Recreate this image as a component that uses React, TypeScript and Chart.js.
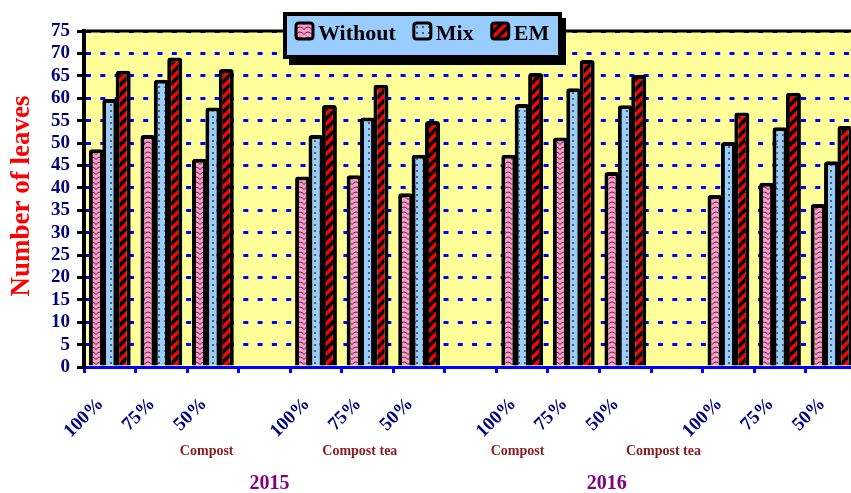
import React, { useEffect, useRef } from "react";
import { Chart, registerables } from "chart.js";

Chart.register(...registerables);

// Doses per treatment; blank slots separate the four treatment groups
const categories = ["100%", "75%", "50%", "", "100%", "75%", "50%", "", "100%", "75%", "50%", "", "100%", "75%", "50%"];

const seriesNames = ["Without", "Mix", "EM"];
const withoutValues = [48.6, 51.8, 46.5, null, 42.5, 42.8, 38.8, null, 47.4, 51.2, 43.5, null, 38.4, 41.1, 36.4];
const mixValues = [59.8, 64.1, 57.9, null, 51.8, 55.7, 47.4, null, 58.7, 62.2, 58.4, null, 50.2, 53.5, 45.9];
const emValues = [66.1, 69.1, 66.5, null, 58.5, 63.0, 54.9, null, 65.6, 68.5, 65.2, null, 56.8, 61.2, 53.8];

const yMin = 0;
const yMax = 75;
const yStep = 5;

const yTitle = "Number of leaves";
const groupLabels = ["Compost", "Compost tea", "Compost", "Compost tea"];
const groupLabelAt = [1.88, 4.85, 7.91, 10.74];
const yearLabels = ["2015", "2016"];
const yearLabelAt = [3.1, 9.64];

const SERIF = "'Liberation Serif', 'Times New Roman', serif";

function makePattern(ctx: CanvasRenderingContext2D, kind: string): CanvasPattern {
  const c = document.createElement("canvas");
  const g = c.getContext("2d")!;
  if (kind === "without") {
    c.width = 8;
    c.height = 5;
    g.fillStyle = "#ff99cc";
    g.fillRect(0, 0, 8, 5);
    g.strokeStyle = "#4a3040";
    g.lineWidth = 1;
    g.beginPath();
    g.moveTo(0, 4.5);
    g.quadraticCurveTo(4, -0.5, 8, 4.5);
    g.stroke();
  } else if (kind === "mix") {
    c.width = 6;
    c.height = 6;
    g.fillStyle = "#99ccff";
    g.fillRect(0, 0, 6, 6);
    g.fillStyle = "#3a3a3a";
    g.beginPath();
    g.arc(3, 3, 1, 0, Math.PI * 2);
    g.fill();
  } else {
    c.width = 10;
    c.height = 10;
    g.fillStyle = "#000000";
    g.fillRect(0, 0, 10, 10);
    g.strokeStyle = "#ff0000";
    g.lineWidth = 3.5;
    g.beginPath();
    g.moveTo(-1, 11);
    g.lineTo(11, -1);
    g.moveTo(-6, 6);
    g.lineTo(6, -6);
    g.moveTo(4, 16);
    g.lineTo(16, 4);
    g.stroke();
  }
  return ctx.createPattern(c, "repeat")!;
}

function roundRect(ctx: CanvasRenderingContext2D, x: number, y: number, w: number, h: number, r: number) {
  ctx.beginPath();
  ctx.moveTo(x + r, y);
  ctx.lineTo(x + w - r, y);
  ctx.quadraticCurveTo(x + w, y, x + w, y + r);
  ctx.lineTo(x + w, y + h - r);
  ctx.quadraticCurveTo(x + w, y + h, x + w - r, y + h);
  ctx.lineTo(x + r, y + h);
  ctx.quadraticCurveTo(x, y + h, x, y + h - r);
  ctx.lineTo(x, y + r);
  ctx.quadraticCurveTo(x, y, x + r, y);
  ctx.closePath();
}

// Yellow plot background, frame line, axis title, group captions and the boxed legend
const decorations = {
  id: "decorations",
  beforeDraw(chart: any) {
    const { ctx, chartArea } = chart;
    ctx.save();
    ctx.fillStyle = "#ffff99";
    ctx.fillRect(chartArea.left, chartArea.top, chartArea.right - chartArea.left, chartArea.bottom - chartArea.top);
    ctx.restore();
  },
  afterDraw(chart: any) {
    const { ctx, chartArea } = chart;
    const xs = chart.scales.x;
    ctx.save();

    // top frame line
    ctx.strokeStyle = "#000";
    ctx.lineWidth = 3;
    ctx.beginPath();
    ctx.moveTo(chartArea.left - 2, chartArea.top);
    ctx.lineTo(chartArea.right, chartArea.top);
    ctx.stroke();

    // y axis title
    ctx.save();
    ctx.translate(22, 196);
    ctx.rotate(-Math.PI / 2);
    ctx.fillStyle = "#ff0000";
    ctx.font = `bold 27px ${SERIF}`;
    ctx.textAlign = "center";
    ctx.textBaseline = "middle";
    ctx.fillText(yTitle, 0, 0);
    ctx.restore();

    // treatment captions
    ctx.textAlign = "center";
    ctx.textBaseline = "middle";
    ctx.fillStyle = "#8b1a1a";
    ctx.font = `bold 14px ${SERIF}`;
    groupLabels.forEach((t, i) => ctx.fillText(t, xs.getPixelForValue(groupLabelAt[i]), 451));

    // year captions
    ctx.fillStyle = "#800080";
    ctx.font = `bold 20px ${SERIF}`;
    yearLabels.forEach((t, i) => ctx.fillText(t, xs.getPixelForValue(yearLabelAt[i]), 484));

    // legend box with drop shadow
    const bx = 285, by = 14, bw = 275, bh = 43;
    ctx.fillStyle = "#000";
    ctx.fillRect(bx + 4, by + 4, bw + 2, bh + 4);
    ctx.fillStyle = "#99ccff";
    ctx.fillRect(bx, by, bw, bh);
    ctx.strokeStyle = "#000";
    ctx.lineWidth = 4;
    ctx.strokeRect(bx, by, bw, bh);

    ctx.font = `bold 22px ${SERIF}`;
    ctx.textAlign = "left";
    ctx.textBaseline = "alphabetic";
    let x = 296;
    chart.data.datasets.forEach((ds: any) => {
      roundRect(ctx, x, 23, 17, 16, 3);
      ctx.fillStyle = ds.backgroundColor;
      ctx.fill();
      ctx.lineWidth = 3;
      ctx.strokeStyle = "#000";
      ctx.stroke();
      ctx.fillStyle = "#000";
      ctx.fillText(ds.label, x + 22, 40);
      x += 22 + ctx.measureText(ds.label).width + 18;
    });

    ctx.restore();
  },
};

export default function App() {
  const canvasRef = useRef<HTMLCanvasElement | null>(null);

  useEffect(() => {
    const canvas = canvasRef.current!;
    const ctx = canvas.getContext("2d")!;
    const fills = [makePattern(ctx, "without"), makePattern(ctx, "mix"), makePattern(ctx, "em")];
    const values = [withoutValues, mixValues, emValues];

    const chart = new Chart(canvas, {
      type: "bar",
      data: {
        labels: categories,
        datasets: seriesNames.map((name, i) => ({
          label: name,
          data: values[i],
          backgroundColor: fills[i],
          borderColor: "#000",
          borderWidth: 4,
          borderRadius: 3,
          categoryPercentage: 0.78,
          barPercentage: 1.12,
        })),
      },
      options: {
        responsive: false,
        animation: false,
        devicePixelRatio: 1,
        layout: { padding: { top: 31, right: 10, left: 0, bottom: 0 } },
        plugins: { legend: { display: false }, tooltip: { enabled: false } },
        scales: {
          x: {
            grid: {
              offset: true,
              drawOnChartArea: false,
              drawTicks: true,
              tickLength: 6,
              tickWidth: 3,
              tickColor: "#0000ff",
            },
            border: { color: "#0000ff", width: 3 },
            ticks: {
              autoSkip: false,
              minRotation: 45,
              maxRotation: 45,
              padding: 20,
              labelOffset: -9,
              color: "#000080",
              font: { family: SERIF, weight: "bold", size: 19 },
            },
            afterFit: (s: any) => {
              s.height = 126;
            },
          },
          y: {
            min: yMin,
            max: yMax,
            ticks: {
              stepSize: yStep,
              autoSkip: false,
              padding: 7,
              color: "#000080",
              font: { family: SERIF, weight: "bold", size: 19 },
            },
            grid: {
              color: "#0000ff",
              lineWidth: 3,
              tickColor: "#000",
              tickWidth: 3,
              tickLength: 7,
            },
            border: { color: "#000", width: 4, dash: [5, 9.3] },
            afterFit: (s: any) => {
              s.width = 84;
            },
          },
        },
      },
      plugins: [decorations],
    } as any);

    return () => chart.destroy();
  }, []);

  return (
    <div style={{ position: "fixed", left: 0, top: 0, width: 851, height: 493, overflow: "hidden", background: "#fff" }}>
      <canvas ref={canvasRef} width={868} height={493} />
    </div>
  );
}
